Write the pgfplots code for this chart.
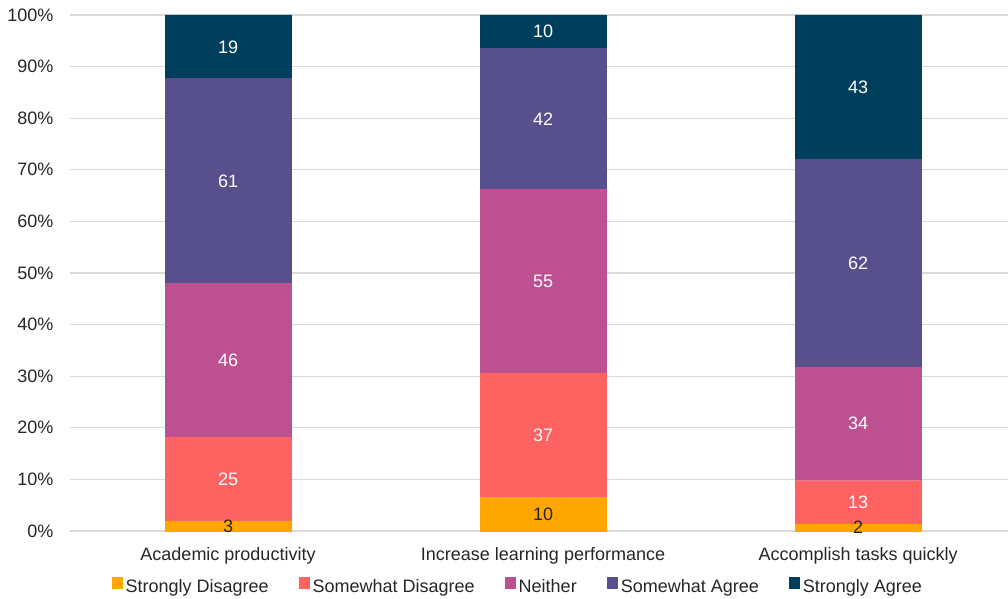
\documentclass[border=0pt]{standalone}
\usepackage{fontspec}
\setmainfont{Liberation Sans}
\usepackage{pgfplots}
\usepackage{pgfplotstable}
\pgfplotsset{compat=1.18}

\definecolor{sdis}{HTML}{FFA600}
\definecolor{swdis}{HTML}{FF6361}
\definecolor{neith}{HTML}{BC5090}
\definecolor{swagr}{HTML}{58508D}
\definecolor{sagr}{HTML}{003F5C}

% number of respondents per answer (154 per statement)
\pgfplotstableread{
x sd swd nei swa sa
0 3 25 46 61 19
1 10 37 55 42 10
2 2 13 34 62 43
}\responses

\pgfplotsset{
  base/.style={
    scale only axis, width=937.5pt, height=516pt,
    xmin=-0.5, xmax=2.476, ymin=0, ymax=154,
    /pgf/number format/assume math mode=true,
  },
  seg/.style={fill=#1, draw=#1, line width=0.4pt},
  seglabel/.style={draw=none, mark=none, nodes near coords,
    point meta=explicit symbolic,
    every node near coord/.append style={anchor=center, inner sep=0pt, text=#1}},
}

\begin{document}
\fontsize{18}{22}\selectfont
\begin{tikzpicture}
\begin{axis}[base, name=ax, at={(0,0)}, anchor=south west,
  ybar stacked, bar width=0.4,
  axis line style={draw=none}, major tick length=0pt,
  ymajorgrids, grid style={draw=black!15, line width=1.2pt},
  xtick={0,1,2},
  xticklabels={Academic productivity, Increase learning performance, Accomplish tasks quickly},
  ytick={0,15.4,30.8,46.2,61.6,77,92.4,107.8,123.2,138.6,154},
  yticklabels={0\%,10\%,20\%,30\%,40\%,50\%,60\%,70\%,80\%,90\%,100\%},
  yticklabel style={anchor=east, inner sep=0pt, xshift=-17pt, text=black!85},
  xticklabel style={anchor=base, inner sep=0pt, yshift=-29pt, text=black!85},
  legend columns=5,
  legend style={draw=none, fill=none, at={(0.476,-0.1066)}, anchor=center,
    inner sep=0pt, nodes={inner sep=0pt, text=black!85},
    /tikz/every odd column/.append style={column sep=3pt},
    /tikz/every even column/.append style={column sep=30pt}},
  legend image code/.code={\fill[#1,draw=none] (0pt,-1pt) rectangle (11pt,11pt);},
]
\addplot[seg=sdis] table[x=x, y=sd] {\responses};
\addplot[seg=swdis] table[x=x, y=swd] {\responses};
\addplot[seg=neith] table[x=x, y=nei] {\responses};
\addplot[seg=swagr] table[x=x, y=swa] {\responses};
\addplot[seg=sagr] table[x=x, y=sa] {\responses};
\legend{Strongly Disagree, Somewhat Disagree, Neither, Somewhat Agree, Strongly Agree}
\end{axis}

% segment counts, centred in each segment
\begin{axis}[base, at={(ax.south west)}, anchor=south west, hide axis]
\addplot[seglabel=black!85] table[x=x, y expr=\thisrow{sd}/2, meta=sd] {\responses};
\addplot[seglabel=white] table[x=x, y expr=\thisrow{sd}+\thisrow{swd}/2, meta=swd] {\responses};
\addplot[seglabel=white] table[x=x, y expr=\thisrow{sd}+\thisrow{swd}+\thisrow{nei}/2, meta=nei] {\responses};
\addplot[seglabel=white] table[x=x, y expr=\thisrow{sd}+\thisrow{swd}+\thisrow{nei}+\thisrow{swa}/2, meta=swa] {\responses};
\addplot[seglabel=white] table[x=x, y expr=\thisrow{sd}+\thisrow{swd}+\thisrow{nei}+\thisrow{swa}+\thisrow{sa}/2, meta=sa] {\responses};
\end{axis}

\pgfresetboundingbox
\path[use as bounding box] ([xshift=-70.5pt,yshift=-67pt]ax.south west) rectangle ([yshift=15pt]ax.north east);
\end{tikzpicture}
\end{document}
